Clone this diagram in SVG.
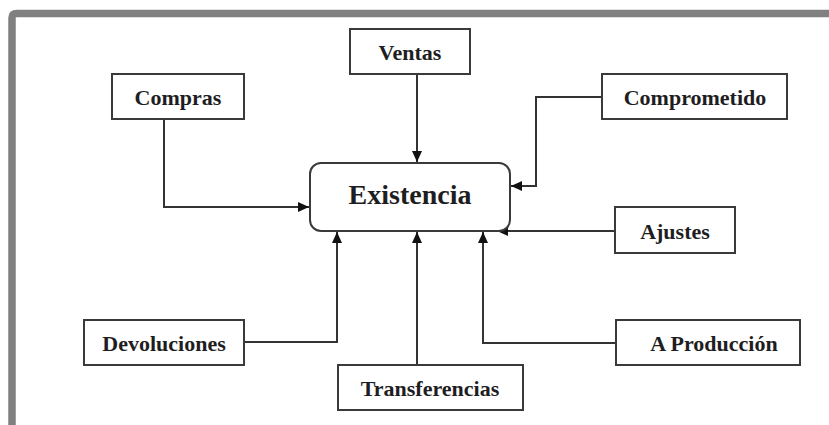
<svg xmlns="http://www.w3.org/2000/svg" width="829" height="425" viewBox="0 0 829 425">
<style>
.box{fill:#fff;stroke:#3a3a3a;stroke-width:2}
.lbl{font-family:"Liberation Serif","Times New Roman",serif;font-weight:bold;font-size:22px;fill:#1e1e22;text-anchor:middle}
.big{font-size:28px}
.con{fill:none;stroke:#333;stroke-width:2}
</style>
<defs>
<marker id="ah" markerUnits="userSpaceOnUse" markerWidth="12" markerHeight="10" refX="11" refY="5" orient="auto">
<path d="M0,0 L11,5 L0,10 z" fill="#111"/>
</marker>
</defs>
<rect width="829" height="425" fill="#fff"/>
<path d="M12,425 L12,18 Q12,13.5 17,13.5 L829,13.5" fill="none" stroke="#808080" stroke-width="7.5"/>
<g id="connectors">
<path class="con" d="M164,119 L164,207 L309,207" marker-end="url(#ah)"/>
<path class="con" d="M417,74 L417,162" marker-end="url(#ah)"/>
<path class="con" d="M602,97 L536,97 L536,186 L511,186" marker-end="url(#ah)"/>
<path class="con" d="M615,231 L497,231" marker-end="url(#ah)"/>
<path class="con" d="M616,343 L483,343 L483,232" marker-end="url(#ah)"/>
<path class="con" d="M244,342 L337,342 L337,232" marker-end="url(#ah)"/>
<path class="con" d="M417,365 L417,232" marker-end="url(#ah)"/>
</g>
<g id="existencia">
<rect class="box" x="310" y="163" width="200" height="68" rx="11"/>
<text class="lbl big" x="410" y="204">Existencia</text>
</g>
<g id="compras">
<rect class="box" x="112" y="74" width="132" height="45"/>
<text class="lbl" x="178" y="105">Compras</text>
</g>
<g id="ventas">
<rect class="box" x="350" y="29" width="120" height="45"/>
<text class="lbl" x="410" y="60">Ventas</text>
</g>
<g id="comprometido">
<rect class="box" x="602" y="74" width="185" height="45"/>
<text class="lbl" x="695" y="105">Comprometido</text>
</g>
<g id="ajustes">
<rect class="box" x="615" y="207" width="120" height="46"/>
<text class="lbl" x="675" y="239">Ajustes</text>
</g>
<g id="devoluciones">
<rect class="box" x="84" y="320" width="160" height="45"/>
<text class="lbl" x="164" y="351">Devoluciones</text>
</g>
<g id="transferencias">
<rect class="box" x="338" y="365" width="185" height="45"/>
<text class="lbl" x="430" y="396">Transferencias</text>
</g>
<g id="produccion">
<rect class="box" x="616" y="320" width="184" height="45"/>
<text class="lbl" x="714" y="351">A Producción</text>
</g>
</svg>
